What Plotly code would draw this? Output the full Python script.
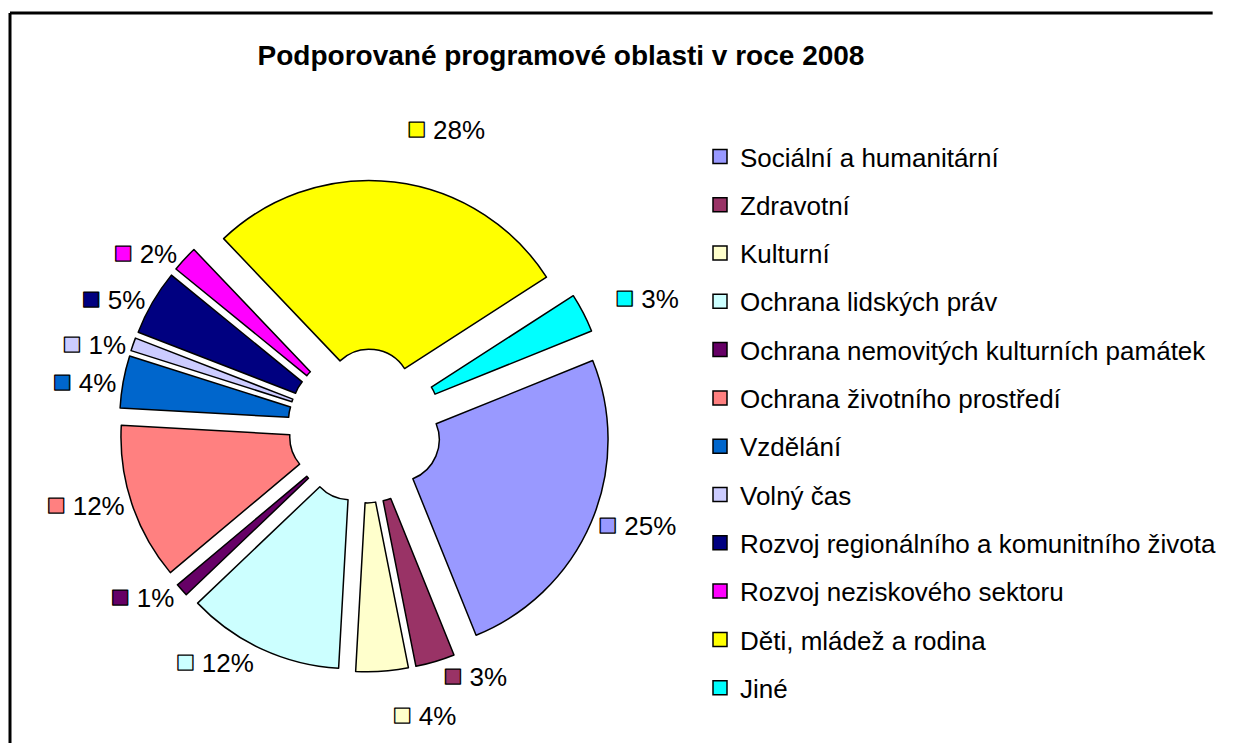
import plotly.graph_objects as go

# categories / values (percent)
oblasti = [
    "Sociální a humanitární",
    "Zdravotní",
    "Kulturní",
    "Ochrana lidských práv",
    "Ochrana nemovitých kulturních památek",
    "Ochrana životního prostředí",
    "Vzdělání",
    "Volný čas",
    "Rozvoj regionálního a komunitního života",
    "Rozvoj neziskového sektoru",
    "Děti, mládež a rodina",
    "Jiné",
]
podil = [25, 3, 4, 12, 1, 12, 4, 1, 5, 2, 28, 3]
barvy = ["#9999FF", "#993366", "#FFFFCC", "#CCFFFF", "#660066", "#FF8080",
         "#0066CC", "#CCCCFF", "#000080", "#FF00FF", "#FFFF00", "#00FFFF"]

# page body has an 8px margin, so the figure is 16px smaller than the window
W, H = 1223, 735
cx, cy = 357, 418          # pie centre in figure px (from top-left)
R, pull = 211, 0.165       # slice radius, explosion
ROT = 68                   # start angle of the first slice

def dom(half):
    yb = H - cy
    return dict(x=[(cx - half) / W, (cx + half) / W],
                y=[(yb - half) / H, (yb + half) / H])

font = "Liberation Sans, Arial, sans-serif"

fig = go.Figure()

# the exploded doughnut
fig.add_trace(go.Pie(
    labels=oblasti, values=podil, sort=False, direction="clockwise",
    rotation=ROT, hole=0.2, pull=pull,
    marker=dict(colors=barvy, line=dict(color="black", width=1.5)),
    textinfo="none", hoverinfo="label+percent", showlegend=False,
    domain=dom(R * (1 + pull)),
))

# transparent twin pies carrying the outside percent labels;
# several of them, each with its own label radius, so that plotly
# neither pushes neighbouring labels apart nor places them too far out
def label(c):
    return (f"<span style='color:{c};stroke:#000;stroke-width:1.3px;"
            f"font-size:31px'>■</span> %{{value}}%")

label_sets = [
    (244, [0, 1, 3, 4, 5, 6, 7, 8, 9]),
    (272, [2, 11]),
    (282, [10]),
]
for r_lab, idx in label_sets:
    fig.add_trace(go.Pie(
        labels=oblasti, values=podil, sort=False, direction="clockwise",
        rotation=ROT, hole=0.9,
        marker=dict(colors=["rgba(0,0,0,0)"] * len(podil), line=dict(width=0)),
        texttemplate=[label(c) if i in idx else "" for i, c in enumerate(barvy)],
        textposition="outside",
        textfont=dict(family=font, size=26, color="black"),
        hoverinfo="skip", showlegend=False,
        domain=dom(r_lab),
    ))

# legend entries
for i, (n, c) in enumerate(zip(oblasti, barvy)):
    fig.add_trace(go.Scatter(
        x=[None], y=[None], mode="markers", name=n, legendgroup=f"g{i}",
        marker=dict(symbol="square", size=14, color=c,
                    line=dict(color="black", width=1.5)),
        hoverinfo="skip",
    ))

fig.update_layout(
    width=W, height=H,
    margin=dict(l=0, r=0, t=0, b=0),
    paper_bgcolor="white", plot_bgcolor="white",
    font=dict(family=font, color="black"),
    title=dict(text="<b>Podporované programové oblasti v roce 2008</b>",
               x=553 / W, xanchor="center", y=1 - 47 / H, yanchor="middle",
               font=dict(family=font, size=28, color="black")),
    xaxis=dict(visible=False), yaxis=dict(visible=False),
    legend=dict(x=692 / W, xanchor="left", y=1 - 125 / H, yanchor="top",
                font=dict(family=font, size=26, color="black"),
                tracegroupgap=11.5, itemclick=False, itemdoubleclick=False,
                bgcolor="rgba(0,0,0,0)"),
    shapes=[
        dict(type="line", xref="paper", yref="paper",
             x0=2 / W, x1=2 / W, y0=0, y1=1 - 5 / H,
             line=dict(color="black", width=3)),
        dict(type="line", xref="paper", yref="paper",
             x0=2 / W, x1=0.985, y0=1 - 5 / H, y1=1 - 5 / H,
             line=dict(color="black", width=3)),
    ],
)

fig.write_html("out.html")
